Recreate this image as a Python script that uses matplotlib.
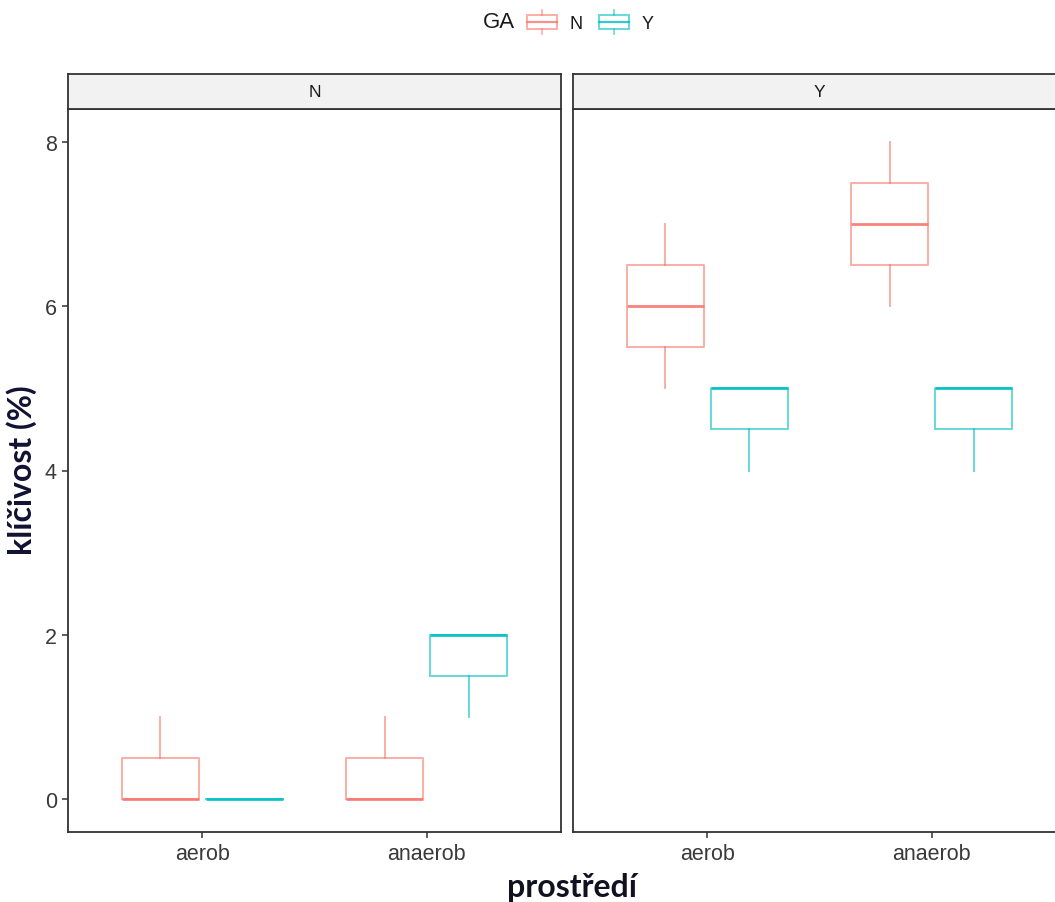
import matplotlib
matplotlib.use("Agg")
import matplotlib.pyplot as plt
from matplotlib.patches import Rectangle, Patch
from matplotlib.lines import Line2D
from matplotlib.legend_handler import HandlerBase

# ---- data ----
categories = ["aerob", "anaerob"]
panels = ["N", "Y"]
ga_levels = ["N", "Y"]
# [min, q1, median, q3, max] for each category
panel_N_GA_N = [[0, 0, 0, 0.5, 1], [0, 0, 0, 0.5, 1]]
panel_N_GA_Y = [[0, 0, 0, 0, 0], [1, 1.5, 2, 2, 2]]
panel_Y_GA_N = [[5, 5.5, 6, 6.5, 7], [6, 6.5, 7, 7.5, 8]]
panel_Y_GA_Y = [[4, 4.5, 5, 5, 5], [4, 4.5, 5, 5, 5]]
yticks = [0, 2, 4, 6, 8]

panel_data = {"N": {"N": panel_N_GA_N, "Y": panel_N_GA_Y},
              "Y": {"N": panel_Y_GA_N, "Y": panel_Y_GA_Y}}
colors = {"N": "#F8766D", "Y": "#00BFC4"}

W, H = 1055, 903
fig = plt.figure(figsize=(W / 100, H / 100), dpi=100)

tick_font = dict(family=["Liberation Sans", "DejaVu Sans"], size=15.5, color="#3A3A3A")
border_col = "#333333"

left_px = [68, 573]
panel_w = 493
top_px, bot_px = 110, 833
strip_top = 75

offsets = {"N": -0.1875, "Y": 0.1875}
box_w = 0.345

for pi, pname in enumerate(panels):
    ax = fig.add_axes([left_px[pi] / W, 1 - bot_px / H, panel_w / W, (bot_px - top_px) / H])
    for g in ga_levels:
        st = []
        for vals in panel_data[pname][g]:
            st.append(dict(whislo=vals[0], q1=vals[1], med=vals[2], q3=vals[3],
                           whishi=vals[4], fliers=[]))
        pos = [i + 1 + offsets[g] for i in range(len(categories))]
        c = colors[g]
        ax.bxp(st, positions=pos, widths=box_w, showcaps=False, showfliers=False,
               patch_artist=False, manage_ticks=False,
               boxprops=dict(color=c, alpha=0.6, lw=1.4),
               whiskerprops=dict(color=c, alpha=0.6, lw=1.4),
               medianprops=dict(color=c, alpha=0.9, lw=2.0, solid_capstyle="butt"))
    ax.set_xlim(0.4, 2.6)
    ax.set_ylim(-0.4, 8.4)
    ax.set_xticks(range(1, len(categories) + 1))
    ax.set_xticklabels(categories, **tick_font)
    if pi == 0:
        ax.set_yticks(yticks)
        ax.set_yticklabels([str(v) for v in yticks], **tick_font)
    else:
        ax.set_yticks([])
    ax.tick_params(length=4, width=1.1, color=border_col, pad=4)
    for s in ax.spines.values():
        s.set_color(border_col)
        s.set_linewidth(1.3)
    ax.set_facecolor("white")

    sax = fig.add_axes([left_px[pi] / W, 1 - top_px / H, panel_w / W, (top_px - strip_top) / H])
    sax.set_facecolor("#F2F2F2")
    sax.set_xticks([])
    sax.set_yticks([])
    for s in sax.spines.values():
        s.set_color(border_col)
        s.set_linewidth(1.3)
    sax.text(0.5, 0.5, pname, transform=sax.transAxes, ha="center", va="center",
             family=["Liberation Sans", "DejaVu Sans"], size=12.5, color="#1A1A1A")

# axis titles
fig.text(572 / W, 1 - 888 / H, "prostředí", ha="center", va="center",
         family=["Lato", "DejaVu Sans"], weight="bold", size=23, color="#111122")
fig.text(22 / W, 1 - 470 / H, "klíčivost (%)", ha="center", va="center", rotation=90,
         family=["Lato", "DejaVu Sans"], weight="bold", size=23, color="#111133")


class BoxHandler(HandlerBase):
    def create_artists(self, legend, orig_handle, xdescent, ydescent, width, height, fontsize, trans):
        c = orig_handle.get_edgecolor()
        x0, y0 = -xdescent, -ydescent
        arts = [
            Rectangle((x0, y0 + 0.2 * height), width, 0.6 * height, fill=False,
                      edgecolor=c, lw=1.4, alpha=0.6, transform=trans),
            Line2D([x0, x0 + width], [y0 + 0.5 * height] * 2, color=c, lw=1.6, alpha=0.8, transform=trans),
            Line2D([x0 + width / 2] * 2, [y0 + 0.8 * height, y0 + 1.0 * height], color=c, lw=1.2, alpha=0.6, transform=trans),
            Line2D([x0 + width / 2] * 2, [y0 + 0.0 * height, y0 + 0.2 * height], color=c, lw=1.2, alpha=0.6, transform=trans),
        ]
        return arts


handles = [Patch(edgecolor=colors[g], facecolor="none") for g in ga_levels]
fig.text(515 / W, 1 - 23 / H, "GA", ha="right", va="center",
         family=["Liberation Sans", "DejaVu Sans"], size=16, color="#1A1A1A")
leg = fig.legend(handles, ga_levels, loc="center left", bbox_to_anchor=(527 / W, 1 - 23 / H),
                 ncol=2, frameon=False, handler_map={Patch: BoxHandler()}, borderpad=0,
                 borderaxespad=0,
                 handlelength=1.65, handleheight=1.6, handletextpad=0.7, columnspacing=0.9,
                 prop=dict(family="Liberation Sans", size=13))
for t in leg.get_texts():
    t.set_color("#1A1A1A")

fig.savefig("out.png", dpi=100, facecolor="white")
